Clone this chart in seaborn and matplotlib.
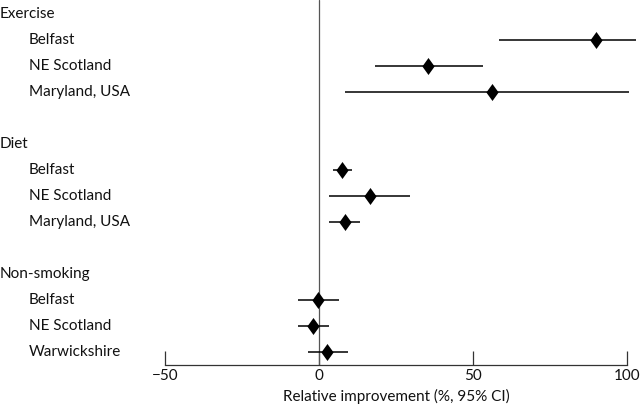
import matplotlib
matplotlib.use("Agg")
import matplotlib.pyplot as plt
import seaborn as sns
import pandas as pd
from matplotlib.path import Path

sns.set_theme(style="white")
plt.rcParams['font.family'] = ['Lato', 'DejaVu Sans']

groups = ["Exercise", "Diet", "Non-smoking"]
studies = [
    ["Belfast", "NE Scotland", "Maryland, USA"],
    ["Belfast", "NE Scotland", "Maryland, USA"],
    ["Belfast", "NE Scotland", "Warwickshire"],
]
estimates = [89.9, 35.3, 56.1, 7.6, 16.6, 8.3, -0.2, -2.0, 2.7]
ci_low = [58.3, 18.3, 8.4, 4.7, 3.3, 3.1, -6.9, -6.9, -3.7]
ci_high = [103.0, 53.1, 100.5, 10.8, 29.7, 13.4, 6.5, 3.3, 9.3]
xticks = [-50, 0, 50, 100]
xlabel = "Relative improvement (%, 95% CI)"

# Build row layout
rows_est = []
header_rows = []
label_rows = []
r = 0
for g, sts in zip(groups, studies):
    header_rows.append((r, g))
    r += 1
    for s in sts:
        label_rows.append((r, s))
        rows_est.append(r)
        r += 1
    r += 1

df = pd.DataFrame({"row": rows_est, "est": estimates, "lo": ci_low, "hi": ci_high})

fig = plt.figure(figsize=(6.4, 4.04), dpi=100)
ax = fig.add_axes([0, 39 / 404, 1, 365 / 404])

ax.axvline(0, color="#555555", lw=0.9, zorder=1)
ax.hlines(df["row"], df["lo"], df["hi"], color="black", lw=1.1, zorder=2)

diamond = Path([(-0.72, 0), (0, 1), (0.72, 0), (0, -1), (-0.72, 0)],
               [Path.MOVETO, Path.LINETO, Path.LINETO, Path.LINETO, Path.CLOSEPOLY])
sns.scatterplot(data=df, x="est", y="row", marker=diamond, s=150, color="black",
                edgecolor="black", linewidth=0, ax=ax, zorder=3, legend=False)

ax.set_xlim(-50 - 165 / 3.08, 100 + 13 / 3.08)
ax.set_ylim(13.5, -0.54)

fs = 11
for rr, g in header_rows:
    ax.text(0.0, rr, g, transform=ax.get_yaxis_transform(), ha="left", va="center",
            fontsize=fs, color="#111111")
for rr, s in label_rows:
    ax.text(29 / 640, rr, s, transform=ax.get_yaxis_transform(), ha="left", va="center",
            fontsize=fs, color="#111111")

for side in ["top", "right", "left"]:
    ax.spines[side].set_visible(False)
ax.spines["bottom"].set_bounds(-50, 100)
ax.spines["bottom"].set_color("#333333")
ax.spines["bottom"].set_linewidth(0.9)
ax.set_yticks([])
ax.set_xticks(xticks)
ax.set_xticklabels(["\u221250", "0", "50", "100"])
ax.tick_params(axis="x", direction="in", length=10, width=0.9, color="#333333",
               pad=3, labelsize=fs, labelcolor="#111111", bottom=True)
ax.set_xlabel("")
ax.text(25, -0.085, xlabel, transform=ax.get_xaxis_transform(), ha="center", va="center",
        fontsize=fs, color="#111111")
ax.set_ylabel("")
ax.patch.set_alpha(0)

fig.savefig("out.png", dpi=100)
